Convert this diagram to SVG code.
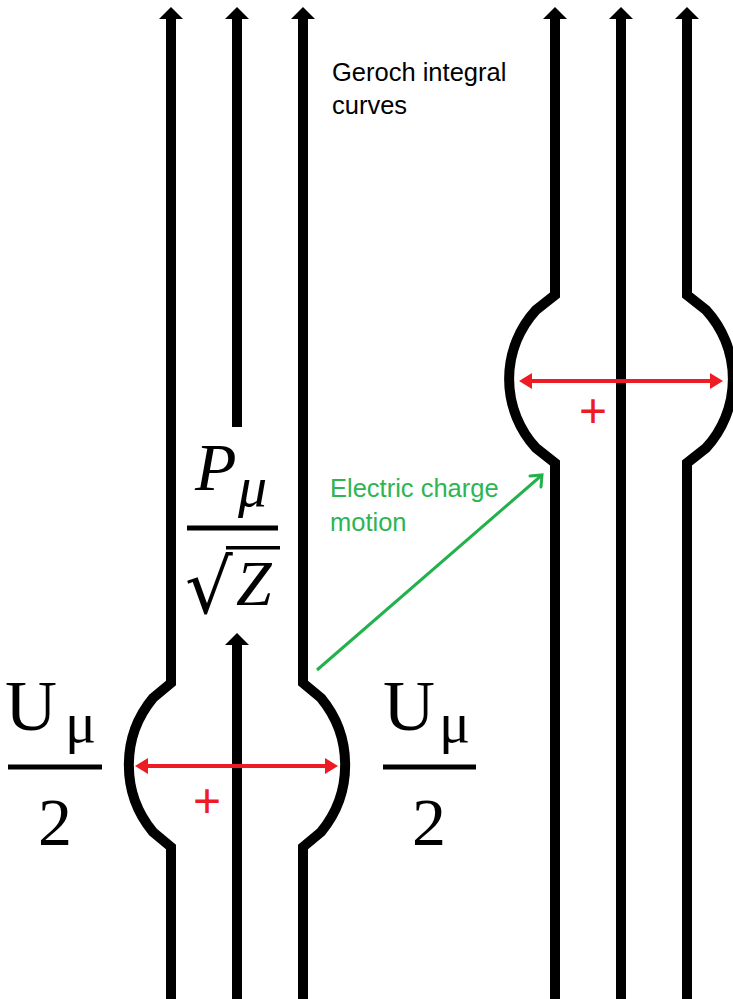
<svg xmlns="http://www.w3.org/2000/svg" width="733" height="999" viewBox="0 0 733 999">
<defs>
<style>
.curve{fill:none;stroke:#000;stroke-width:10;stroke-linejoin:miter}
.head{fill:#000}
.red{stroke:#ed1c24;stroke-width:4;fill:none}
.redhead{fill:#ed1c24}
.plus{font-family:"Liberation Sans",Arial,sans-serif;font-size:48px;fill:#ed1c24;text-anchor:middle}
.lbl{font-family:"Liberation Sans",Arial,sans-serif;font-size:25.5px}
.m{font-family:"Liberation Serif","Times New Roman",serif;fill:#000}
.it{font-style:italic}
</style>
</defs>
<rect width="733" height="999" fill="#fff"/>
<g id="left-tube">
<path class="curve" d="M171,19 V683 L153,698 A105,105 0 0 0 153,832 L171,847 V999"/>
<path class="curve" d="M303,19 V683 L321,698 A105,105 0 0 1 321,832 L303,847 V999"/>
<path class="curve" d="M237,19 V427"/>
<path class="curve" d="M237,645 V999"/>
<polygon class="head" points="171,7 183,19 159,19"/>
<polygon class="head" points="237,7 249,19 225,19"/>
<polygon class="head" points="303,7 315,19 291,19"/>
<polygon class="head" points="237,633 249,645 225,645"/>
<path class="red" d="M146,766 H327"/>
<polygon class="redhead" points="135,766 148,758 148,774"/>
<polygon class="redhead" points="338,766 325,758 325,774"/>
<text class="plus" x="207" y="817">+</text>
</g>
<g id="right-tube">
<path class="curve" d="M555,19 V295 L536,310 A102,102 0 0 0 536,448 L555,463 V999"/>
<path class="curve" d="M687,19 V295 L706,310 A102,102 0 0 1 706,448 L687,463 V999"/>
<path class="curve" d="M621,19 V999"/>
<polygon class="head" points="555,7 567,19 543,19"/>
<polygon class="head" points="621,7 633,19 609,19"/>
<polygon class="head" points="687,7 699,19 675,19"/>
<path class="red" d="M530,381 H712"/>
<polygon class="redhead" points="519,381 532,373 532,389"/>
<polygon class="redhead" points="723,381 710,373 710,389"/>
<text class="plus" x="593" y="427">+</text>
</g>
<g id="connectors">
<path d="M317,670 L542,475" stroke="#22b14c" stroke-width="3" fill="none"/>
<path d="M530,476 L542,475 L541,487" stroke="#22b14c" stroke-width="3" fill="none" stroke-linecap="round"/>
</g>
<g id="label-geroch">
<text class="lbl" x="332" y="81" fill="#000">Geroch integral</text>
<text class="lbl" x="332" y="114" fill="#000">curves</text>
</g>
<g id="label-charge">
<text class="lbl" x="330" y="497" fill="#2db552">Electric charge</text>
<text class="lbl" x="330" y="531" fill="#2db552">motion</text>
</g>
<g id="label-p">
<text class="m it" x="195" y="490" font-size="68">P</text>
<text class="m it" x="238" y="506" font-size="58">μ</text>
<rect x="187" y="525.5" width="91" height="5" fill="#000"/>
<text class="m" x="185" y="613" font-size="75" style="font-family:'DejaVu Serif',serif">√</text>
<rect x="226" y="546" width="54" height="3.5" fill="#000"/>
<text class="m it" x="236" y="605" font-size="64">Z</text>
</g>
<g id="label-u-left">
<text class="m" x="31" y="730" font-size="72" text-anchor="middle">U</text>
<text class="m" x="65" y="742" font-size="58">μ</text>
<rect x="8" y="764.5" width="94" height="5" fill="#000"/>
<text class="m" x="55" y="845" font-size="68" text-anchor="middle">2</text>
</g>
<g id="label-u-right">
<text class="m" x="409" y="730" font-size="72" text-anchor="middle">U</text>
<text class="m" x="439" y="742" font-size="58">μ</text>
<rect x="383" y="764.5" width="93" height="5" fill="#000"/>
<text class="m" x="429" y="845" font-size="68" text-anchor="middle">2</text>
</g>
</svg>
